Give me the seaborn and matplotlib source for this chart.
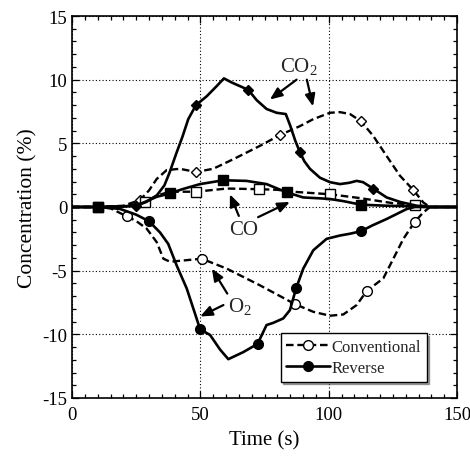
import numpy as np
import pandas as pd
import matplotlib
matplotlib.use("Agg")
import matplotlib.pyplot as plt
import seaborn as sns
from matplotlib.lines import Line2D
from matplotlib.ticker import MultipleLocator

# ---------------- data ----------------
co2_rev_t = [0, 10, 20, 25, 29, 33, 36, 38, 40.8, 43, 45.3, 48.3, 52.5, 56.4, 59.2, 62, 64.2, 68.7,
             71.9, 75.8, 79.7, 83.3, 85, 87, 88.8, 90.5, 92.7, 96.6, 100.5, 104.4, 108, 110.9,
             113.4, 117.3, 122.6, 127.8, 134.3, 140, 150]
co2_rev_y = [0, 0, 0.05, 0.1, 0.4, 0.9, 1.7, 2.7, 4.3, 5.5, 6.9, 8.0, 8.7, 9.5, 10.1, 9.8, 9.6, 9.2,
             8.4, 7.7, 7.4, 7.3, 6.4, 5.2, 4.3, 3.6, 3.0, 2.3, 1.95, 1.8, 1.9, 2.05,
             1.95, 1.45, 0.75, 0.4, 0.1, 0, 0]
co2_rev_mark = [25, 48.3, 68.7, 88.8, 117.3]

co2_conv_t = [0, 10, 20, 26.5, 30, 33, 36.9, 42, 48.3, 55, 62.8, 73.2, 81, 88.8, 94, 100.5, 104.4,
              108.3, 112.5, 117.3, 122.6, 127.8, 133, 136.9, 139.5, 150]
co2_conv_y = [0, 0, 0.1, 0.55, 1.3, 2.2, 2.9, 3.0, 2.75, 3.0, 3.75, 4.8, 5.65, 6.35, 6.9, 7.4, 7.45,
              7.3, 6.75, 5.6, 4.0, 2.45, 1.33, 0.35, 0, 0]
co2_conv_mark = [26.5, 48.3, 81, 112.5, 133]

co_conv_t = [0, 10, 20, 28.4, 33, 38.2, 48.3, 60.3, 72.8, 80, 86, 100.5, 112.2, 125, 133.6, 140, 150]
co_conv_y = [0, 0, 0.05, 0.37, 0.9, 1.2, 1.2, 1.45, 1.4, 1.35, 1.2, 1.0, 0.7, 0.3, 0.18, 0, 0]
co_conv_mark = [10, 28.4, 48.3, 72.8, 100.5, 133.6]

co_rev_t = [0, 10, 20, 25, 29, 33, 38.2, 43, 49.9, 59, 68, 75.8, 83.6, 90.1, 96.6, 100.5, 106,
            112.6, 122.6, 133, 140, 150]
co_rev_y = [0, 0, 0.05, 0.1, 0.45, 0.8, 1.07, 1.4, 1.8, 2.1, 2.05, 1.8, 1.15, 0.75, 0.68, 0.63, 0.45,
            0.18, 0.1, 0.05, 0, 0]
co_rev_mark = [10, 38.2, 59, 83.6, 112.6]

o2_conv_t = [0, 10, 15, 21.3, 25, 29.1, 33, 35.6, 38.2, 43.4, 50.5, 60.3, 73.2, 86.9, 94, 100.5,
             105.7, 110.9, 114.8, 121.3, 125.2, 129.1, 133.6, 136.9, 139.5, 150]
o2_conv_y = [0, 0, -0.1, -0.73, -1.1, -1.7, -2.76, -4.06, -4.3, -4.2, -4.06, -4.84, -6.15, -7.63,
             -8.23, -8.54, -8.44, -7.7, -6.6, -5.6, -4.06, -2.5, -1.15, -0.42, 0, 0]
o2_conv_mark = [21.3, 50.5, 86.9, 114.8, 133.6]

o2_rev_t = [0, 10, 18.7, 25, 30, 34.3, 37.5, 40.8, 44.7, 47.9, 49.9, 53.8, 57.7, 60.9, 66.7, 72.3,
            75.8, 78.4, 82.3, 84.9, 87.3, 90.1, 94, 99.2, 104.4, 108.3, 112.6, 117, 122.6, 130.4,
            133.6, 150]
o2_rev_y = [0, 0, -0.15, -0.6, -1.12, -2.0, -2.9, -4.6, -6.4, -8.36, -9.6, -10.05, -11.2, -11.95,
            -11.4, -10.75, -9.27, -9.1, -8.75, -8.1, -6.4, -4.84, -3.4, -2.5, -2.24, -2.1, -1.9,
            -1.45, -0.94, -0.16, 0, 0]
o2_rev_mark = [30, 49.9, 72.3, 87.3, 112.6]

x_ticks = [0, 50, 100, 150]
y_ticks = [-15, -10, -5, 0, 5, 10, 15]
legend_labels = ["Conventional", "Reverse"]

# ---------------- style ----------------
sns.set_theme(style="ticks")
plt.rcParams["font.family"] = ["Liberation Serif", "DejaVu Serif"]
plt.rcParams["mathtext.fontset"] = "custom"
plt.rcParams["mathtext.rm"] = "Liberation Serif"
plt.rcParams["mathtext.it"] = "Liberation Serif:italic"
plt.rcParams["axes.unicode_minus"] = False

fig = plt.figure(figsize=(4.7, 4.6), dpi=100)
ax = fig.add_axes([72 / 470, 1 - 399 / 460, 385 / 470, 382 / 460])

dash = (3.2, 1.6)


def draw(t, y, marks, marker, filled, dashed, z):
    idx = [int(np.argmin(np.abs(np.array(t) - m))) for m in marks]
    df = pd.DataFrame({"t": t, "y": y})
    kw = dict(color="black", linewidth=1.9 if not dashed else 1.7, marker=marker,
              markevery=idx, markersize=5.5 if marker == "D" else 7,
              markeredgecolor="black", markeredgewidth=1.0,
              markerfacecolor="black" if filled else "white", zorder=z)
    sns.lineplot(data=df, x="t", y="y", ax=ax, sort=False, estimator=None, **kw)
    line = ax.lines[-1]
    if dashed:
        line.set_dashes(dash)


draw(co2_conv_t, co2_conv_y, co2_conv_mark, "D", False, True, 3)
draw(co_conv_t, co_conv_y, co_conv_mark, "s", False, True, 3)
draw(o2_conv_t, o2_conv_y, o2_conv_mark, "o", False, True, 3)
draw(co2_rev_t, co2_rev_y, co2_rev_mark, "D", True, False, 4)
draw(co_rev_t, co_rev_y, co_rev_mark, "s", True, False, 4)
draw(o2_rev_t, o2_rev_y, o2_rev_mark, "o", True, False, 4)

ax.set_xlim(0, 150)
ax.set_ylim(-15, 15)
ax.set_xticks(x_ticks)
ax.set_yticks(y_ticks)
ax.set_xticklabels([str(v) for v in x_ticks])
ax.set_yticklabels([str(v) for v in y_ticks])
ax.xaxis.set_minor_locator(MultipleLocator(5))
ax.yaxis.set_minor_locator(MultipleLocator(1))
ax.tick_params(which="both", direction="in", top=True, right=True, colors="black",
               labelsize=13.5, width=0.9)
ax.tick_params(which="major", length=5)
ax.tick_params(which="minor", length=3)
ax.tick_params(axis="x", pad=6)
ax.grid(True, which="major", color="black", linestyle=(0, (1, 2)), linewidth=0.8)
ax.set_axisbelow(True)
for s in ax.spines.values():
    s.set_color("black")
    s.set_linewidth(1.2)

ax.set_xlabel("Time (s)", fontsize=15, color="black", labelpad=5)
ax.set_ylabel("Concentration (%)", fontsize=15.5, color="black", labelpad=3)

arrow = dict(arrowstyle="-|>,head_length=0.6,head_width=0.25", color="black", lw=1.6,
             shrinkA=0, shrinkB=0)
# CO2
ax.annotate("", xy=(77.1, 8.44), xytext=(87.5, 10.0), arrowprops=arrow, zorder=6)
ax.annotate("", xy=(93.9, 7.9), xytext=(91.5, 10.0), arrowprops=arrow, zorder=6)
ax.text(88.5, 11.1, r"CO$_2$", fontsize=15, ha="center", va="center", zorder=6)
# CO
ax.annotate("", xy=(61.5, 1.0), xytext=(65.0, -0.7), arrowprops=arrow, zorder=6)
ax.annotate("", xy=(84.9, 0.4), xytext=(72.5, -0.8), arrowprops=arrow, zorder=6)
ax.text(66.8, -1.8, "CO", fontsize=15, ha="center", va="center", zorder=6)
# O2
ax.annotate("", xy=(54.5, -4.84), xytext=(60.5, -6.8), arrowprops=arrow, zorder=6)
ax.annotate("", xy=(49.9, -8.6), xytext=(59.0, -7.7), arrowprops=arrow, zorder=6)
ax.text(65.4, -7.7, r"O$_2$", fontsize=15, ha="center", va="center", zorder=6)

handles = [
    Line2D([], [], color="black", linewidth=1.7, dashes=dash, marker="o", markersize=7,
           markerfacecolor="white", markeredgecolor="black"),
    Line2D([], [], color="black", linewidth=1.9, marker="o", markersize=7,
           markerfacecolor="black", markeredgecolor="black"),
]
leg = ax.legend(handles, legend_labels, loc="lower right", bbox_to_anchor=(0.943, 0.021),
                fontsize=12, frameon=True, fancybox=False, shadow=True, framealpha=1,
                edgecolor="black", handlelength=2.6, handletextpad=0.1, borderpad=0.35,
                labelspacing=0.3)
leg.get_frame().set_linewidth(1.0)
leg.set_zorder(10)

fig.savefig("out.png", dpi=100)
